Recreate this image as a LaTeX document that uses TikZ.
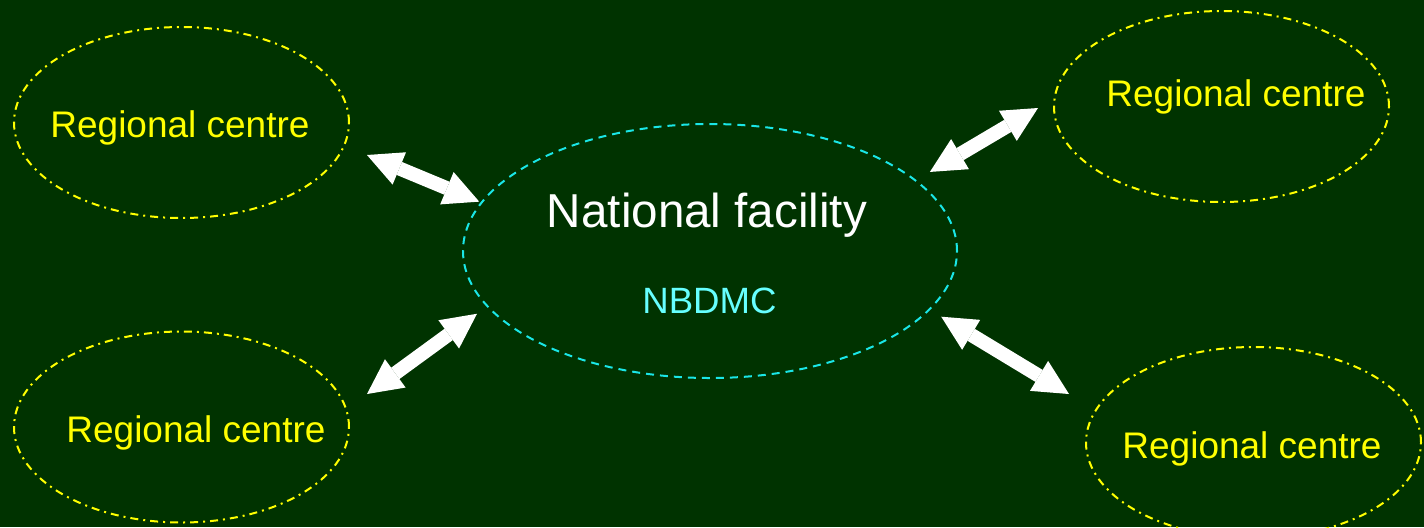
\documentclass[tikz,border=0pt]{standalone}
\usepackage{fontspec}
\setmainfont{Liberation Sans}
\usetikzlibrary{shapes.geometric,arrows.meta}
\tikzset{
  region/.style = {ellipse, draw = regyellow, line width = 1pt, minimum width = 167.5pt, minimum height = 95.5pt, dash pattern = on 4pt off 2.5pt on 1pt off 2.5pt},
  centre/.style = {ellipse, draw = natcyan, line width = 1pt, minimum width = 247pt, minimum height = 127pt, dash pattern = on 4pt off 3pt},
  regtext/.style = {anchor = base, text = regyellow, font = \fontsize{18.5}{22}\selectfont, inner sep = 0pt},
  link/.style = {white, line width = 7pt, {Triangle[length = 17.5pt, width = 17.5pt, line width = 0pt]}-{Triangle[length = 17.5pt, width = 17.5pt, line width = 0pt]}}
}
\begin{document}
\begin{tikzpicture}[x = 0.5pt, y = -0.5pt]
\definecolor{bg}{HTML}{003300}
\definecolor{regyellow}{HTML}{FFFF00}
\definecolor{natcyan}{HTML}{1AE6E6}
\definecolor{nbcyan}{HTML}{66FFFF}
\useasboundingbox (0, 0) rectangle (1424, 527);
\fill[bg] (0, 0) rectangle (1424, 527);

\node[centre] (nf) at (710, 251) {};
\node[anchor = base, text = white, font = \fontsize{23.8}{28}\selectfont, inner sep = 0pt] (nf-name) at (707, 227) {National facility};
\node[anchor = base, text = nbcyan, font = \fontsize{18.3}{22}\selectfont, inner sep = 0pt] (nf-abbr) at (709.5, 313) {NBDMC};

\node[region] (tl) at (181.5, 122.5) {};
\node[regtext] (tl-name) at (180, 137) {Regional centre};
\node[region] (bl) at (181.5, 427) {};
\node[regtext] (bl-name) at (196, 442) {Regional centre};
\node[region] (tr) at (1221.5, 106.5) {};
\node[regtext] (tr-name) at (1236, 106) {Regional centre};
\node[region] (br) at (1253.5, 442.5) {};
\node[regtext] (br-name) at (1252, 458) {Regional centre};

\coordinate (tl-tip) at (367, 155);
\coordinate (bl-tip) at (367, 394);
\coordinate (tr-tip) at (1038, 108);
\coordinate (br-tip) at (1069, 394);
\draw[link, shorten >= 0.8pt] (tl-tip) -- (nf.168.4);
\draw[link, shorten >= 6pt] (bl-tip) -- (nf.194.4);
\draw[link, shorten >= 7.9pt] (tr-tip) -- (nf.19.8);
\draw[link, shorten >= 6.5pt] (br-tip) -- (nf.345.6);
\end{tikzpicture}
\end{document}
